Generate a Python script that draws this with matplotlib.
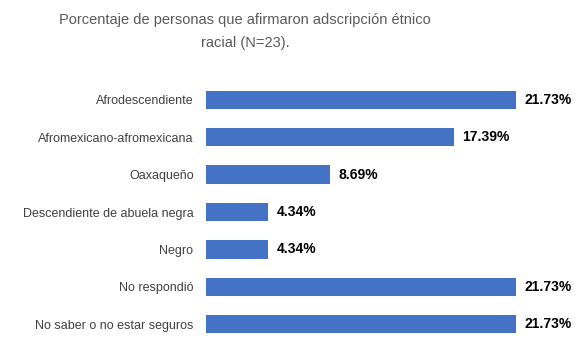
import matplotlib
matplotlib.use("Agg")
import matplotlib.pyplot as plt

categories = ["Afrodescendiente", "Afromexicano-afromexicana", "Oaxaqueño",
              "Descendiente de abuela negra", "Negro", "No respondió",
              "No saber o no estar seguros"]
values = [21.73, 17.39, 8.69, 4.34, 4.34, 21.73, 21.73]
labels = ["21.73%", "17.39%", "8.69%", "4.34%", "4.34%", "21.73%", "21.73%"]

plt.rcParams['font.family'] = ['Liberation Sans', 'DejaVu Sans']

fig = plt.figure(figsize=(5.88, 3.5), dpi=100)
ax = fig.add_axes([206/588, 7/350, 382/588, 262/350])
y = list(range(len(categories)))
ax.barh(y, values, height=0.49, color="#4472C4")
ax.set_ylim(len(categories) - 0.5, -0.5)
ax.set_xlim(0, 26.78)
ax.set_yticks(y)
ax.set_yticklabels(categories, fontsize=9, color="#404040")
ax.tick_params(axis='y', length=0, pad=9)
ax.set_xticks([])
for s in ax.spines.values():
    s.set_visible(False)
for yi, v, lab in zip(y, values, labels):
    ax.text(v + 0.6, yi, lab, va='center', ha='left', fontsize=10,
            fontweight='bold', color="#000000")

fig.text(245/588, 1 - 20/350, "Porcentaje de personas que afirmaron adscripción étnico",
         ha='center', va='center', fontsize=10.5, color="#595959")
fig.text(245/588, 1 - 43/350, "racial (N=23).",
         ha='center', va='center', fontsize=10.5, color="#595959")

fig.savefig("out.png", dpi=100)
